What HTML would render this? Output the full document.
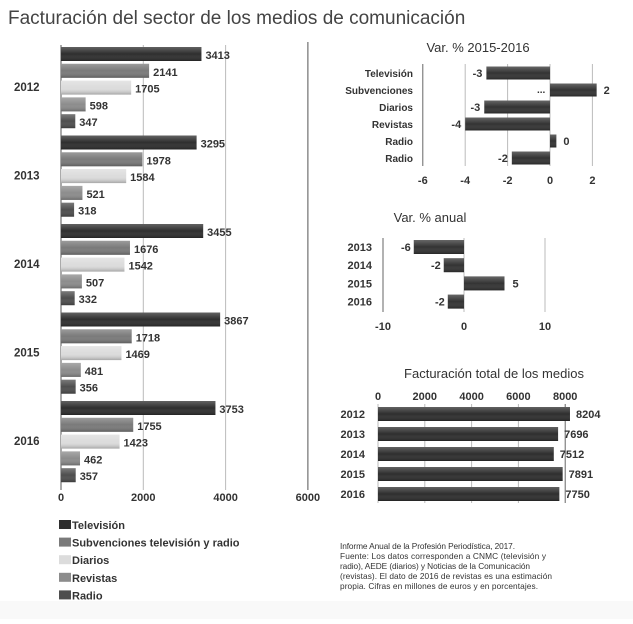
<!DOCTYPE html>
<html><head><meta charset="utf-8">
<style>
html,body{margin:0;padding:0;background:#fff;}
body{width:633px;height:619px;overflow:hidden;font-family:"Liberation Sans",sans-serif;}
svg text{font-family:"Liberation Sans",sans-serif;}
</style></head>
<body>
<svg id="c" width="633" height="619" xmlns="http://www.w3.org/2000/svg">
<defs>
<linearGradient id="gshade" x1="0" y1="0" x2="0" y2="1">
<stop offset="0" stop-color="#fff" stop-opacity="0.25"/>
<stop offset="0.5" stop-color="#fff" stop-opacity="0"/>
<stop offset="1" stop-color="#000" stop-opacity="0.25"/>
</linearGradient>
</defs>
<rect x="0" y="601" width="633" height="18" fill="#f9f9f9"/>
<text x="8" y="24" font-size="19" fill="#444">Facturación del sector de los medios de comunicación</text>
<g id="main"></g>
<g id="c1"></g>
<g id="c2"></g>
<g id="c3"></g>
<text x="340" y="549" font-size="8.3" fill="#333" textLength="175">Informe Anual de la Profesión Periodística, 2017.</text>
<text x="340" y="559" font-size="8.3" fill="#333" textLength="206">Fuente: Los datos corresponden a CNMC (televisión y</text>
<text x="340" y="569" font-size="8.3" fill="#333" textLength="190">radio), AEDE (diarios) y Noticias de la Comunicación</text>
<text x="340" y="579" font-size="8.3" fill="#333" textLength="212">(revistas). El dato de 2016 de revistas es una estimación</text>
<text x="340" y="589" font-size="8.3" fill="#333" textLength="198">propia. Cifras en millones de euros y en porcentajes.</text>
</svg>
<script>
const years = ['2012','2013','2014','2015','2016'];
const seriesNames = ['Televisión','Subvenciones televisión y radio','Diarios','Revistas','Radio'];
const tv = [3413,3295,3455,3867,3753];
const subv = [2141,1978,1676,1718,1755];
const diarios = [1705,1584,1542,1469,1423];
const revistas = [598,521,507,481,462];
const radio = [347,318,332,356,357];
const mainTicks = [0,2000,4000,6000];

const varCats = ['Televisión','Subvenciones','Diarios','Revistas','Radio','Radio'];
const varVals = [-3,2.2,-3.1,-4,0.3,-1.8];
const varLabels = ['-3','2','-3','-4','0','-2'];
const varTicks = [-6,-4,-2,0,2];

const anualYears = ['2013','2014','2015','2016'];
const anualVals = [-6.2,-2.5,5,-2];
const anualLabels = ['-6','-2','5','-2'];
const anualTicks = [-10,0,10];

const totalYears = ['2012','2013','2014','2015','2016'];
const totalVals = [8204,7696,7512,7891,7750];
const totalTicks = [0,2000,4000,6000,8000];

const NS='http://www.w3.org/2000/svg';
function mk(parent,tag,attrs,txt){const e=document.createElementNS(NS,tag);for(const k in attrs)e.setAttribute(k,attrs[k]);if(txt!==undefined)e.textContent=txt;parent.appendChild(e);return e;}

const gm=document.getElementById('main');
const colors=['#2e2e2e','#7a7a7a','#dcdcdc','#8c8c8c','#4e4e4e'];
const allSeries=[tv,subv,diarios,revistas,radio];
const mx=v=>61+v*0.04115;
mainTicks.forEach((t,i)=>{
  const l=mk(gm,'line',{x1:mx(t),x2:mx(t),y1:i==3?42:45,y2:490,stroke:i==0||i==3?'#555':'#bbb','stroke-width':1});
  
  
  const tx=mk(gm,'text',{x:mx(t),y:501,'font-size':11,'font-weight':'bold','text-anchor':'middle',fill:'#333'},t);
  
  
});
years.forEach((y,yi)=>{
  const top=47+yi*88.5;
  const yl=mk(gm,'text',{x:14,y:top+44,'font-size':11.5,'font-weight':'bold',fill:'#333'},y);
  
  
  allSeries.forEach((s,si)=>{
    const by=top+si*16.8;
    const r=mk(gm,'rect',{x:61,y:by,width:mx(s[yi])-61,height:14,fill:colors[si]});
    
    
    mk(gm,'rect',{x:61,y:by,width:mx(s[yi])-61,height:14,fill:'url(#gshade)'});
    const t=mk(gm,'text',{x:mx(s[yi])+4,y:by+12,'font-size':11,'font-weight':'bold',fill:'#333'},s[yi]);
    
    
  });
});
seriesNames.forEach((n,i)=>{
  const y=518+i*17.6;
  const sq=mk(gm,'rect',{x:59,y:y+2,width:12,height:9,fill:colors[i]});
  
  
  const t=mk(gm,'text',{x:72,y:y+11,'font-size':11,'font-weight':'bold',fill:'#333'},n);
  
  
});

const g1=document.getElementById('c1');
const x1=v=>550+v*21.2;
let t1=mk(g1,'text',{x:478,y:52,'font-size':13,fill:'#333','text-anchor':'middle'},'Var. % 2015-2016');


varTicks.forEach((t,i)=>{
  const l=mk(g1,'line',{x1:x1(t),x2:x1(t),y1:64,y2:166,stroke:i==0?'#666':'#bbb'});
  
  
  const tx=mk(g1,'text',{x:x1(t),y:184,'font-size':11,'font-weight':'bold','text-anchor':'middle',fill:'#333'},t);
  
  
});
varCats.forEach((c,i)=>{
  const cy=73+i*17;
  const lb=mk(g1,'text',{x:413,y:cy+4,'font-size':10,'font-weight':'bold','text-anchor':'end',fill:'#333'},c);
  
  
  const v=varVals[i];
  const r=mk(g1,'rect',{x:Math.min(x1(0),x1(v)),y:cy-6.5,width:Math.abs(x1(v)-x1(0)),height:13,fill:'#333'});
  
  
  mk(g1,'rect',{x:Math.min(x1(0),x1(v)),y:cy-6.5,width:Math.abs(x1(v)-x1(0)),height:13,fill:'url(#gshade)'});
  const vt=mk(g1,'text',{x:v<0?x1(v)-4:x1(v)+7,y:cy+4,'font-size':11,'font-weight':'bold','text-anchor':v<0?'end':'start',fill:'#333'},varLabels[i]);
  
  
});
mk(g1,'text',{x:537,y:93,'font-size':10,'font-weight':'bold',fill:'#333'},'...');

const g2=document.getElementById('c2');
const x2=v=>464+v*8.1;
let t2=mk(g2,'text',{x:430,y:222,'font-size':13,fill:'#333','text-anchor':'middle'},'Var. % anual');


anualTicks.forEach((t,i)=>{
  const l=mk(g2,'line',{x1:x2(t),x2:x2(t),y1:238,y2:312,stroke:i==0?'#666':'#bbb'});
  
  
  const tx=mk(g2,'text',{x:x2(t),y:330,'font-size':11,'font-weight':'bold','text-anchor':'middle',fill:'#333'},t);
  
  
});
anualYears.forEach((y,i)=>{
  const cy=247+i*18.2;
  const lb=mk(g2,'text',{x:372,y:cy+4,'font-size':11,'font-weight':'bold','text-anchor':'end',fill:'#333'},y);
  
  
  const v=anualVals[i];
  const r=mk(g2,'rect',{x:Math.min(x2(0),x2(v)),y:cy-7,width:Math.abs(x2(v)-x2(0)),height:14,fill:'#333'});
  
  
  mk(g2,'rect',{x:Math.min(x2(0),x2(v)),y:cy-7,width:Math.abs(x2(v)-x2(0)),height:14,fill:'url(#gshade)'});
  const vt=mk(g2,'text',{x:v<0?x2(v)-3:x2(v)+8,y:cy+4,'font-size':11,'font-weight':'bold','text-anchor':v<0?'end':'start',fill:'#333'},anualLabels[i]);
  
  
});

const g3=document.getElementById('c3');
const x3=v=>378+v*0.0234;
let t3=mk(g3,'text',{x:494,y:378,'font-size':13,fill:'#333','text-anchor':'middle'},'Facturación total de los medios');


totalTicks.forEach((t,i)=>{
  const l=mk(g3,'line',{x1:x3(t),x2:x3(t),y1:404,y2:503,stroke:i==4?'#666':'#bbb'});
  
  
  const tx=mk(g3,'text',{x:x3(t),y:400,'font-size':11,'font-weight':'bold','text-anchor':'middle',fill:'#333'},t);
  
  
});
totalYears.forEach((y,i)=>{
  const cy=414+i*20;
  const lb=mk(g3,'text',{x:365,y:cy+4,'font-size':11,'font-weight':'bold','text-anchor':'end',fill:'#333'},y);
  
  
  const v=totalVals[i];
  const r=mk(g3,'rect',{x:378,y:cy-7,width:x3(v)-378,height:14,fill:'#2e2e2e'});
  
  
  mk(g3,'rect',{x:378,y:cy-7,width:x3(v)-378,height:14,fill:'url(#gshade)'});
  const vt=mk(g3,'text',{x:x3(v)+6,y:cy+4,'font-size':11,'font-weight':'bold',fill:'#333'},v);
  
  
});
</script>
</body></html>
